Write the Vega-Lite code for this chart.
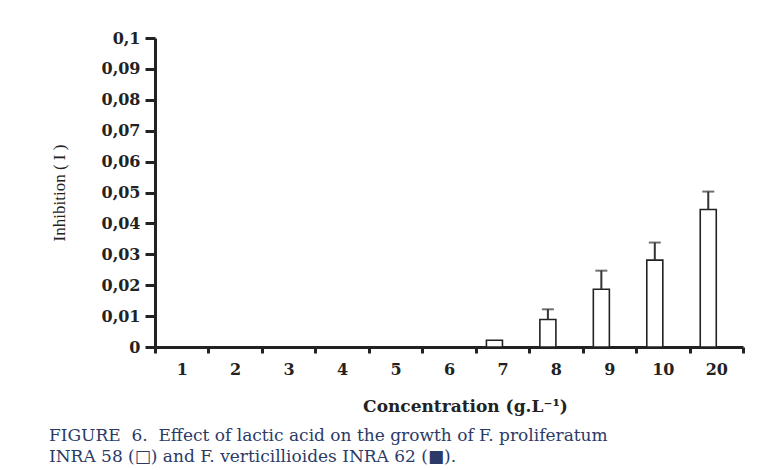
{
  "$schema": "https://vega.github.io/schema/vega-lite/v6.json",
  "width": 588,
  "height": 309,
  "autosize": {"type": "none"},
  "padding": {"left": 155, "top": 38, "right": 24, "bottom": 123},
  "background": "white",
  "config": {"view": {"stroke": null}, "font": "DejaVu Serif"},
  "title": {
    "text": ["FIGURE\u00a0\u00a06.\u00a0\u00a0Effect of lactic acid on the growth of F. proliferatum", "INRA 58 (□) and F. verticillioides INRA 62 (■)."],
    "orient": "bottom",
    "anchor": "start",
    "frame": "group",
    "dx": -106,
    "offset": 14,
    "font": "DejaVu Serif",
    "fontSize": 17,
    "fontWeight": "normal",
    "color": "#2b3a67",
    "lineHeight": 21,
    "baseline": "top"
  },
  "data": {
    "values": [
      {"conc": "1", "strain": "F. proliferatum INRA 58", "value": 0, "upper": null},
      {"conc": "2", "strain": "F. proliferatum INRA 58", "value": 0, "upper": null},
      {"conc": "3", "strain": "F. proliferatum INRA 58", "value": 0, "upper": null},
      {"conc": "4", "strain": "F. proliferatum INRA 58", "value": 0, "upper": null},
      {"conc": "5", "strain": "F. proliferatum INRA 58", "value": 0, "upper": null},
      {"conc": "6", "strain": "F. proliferatum INRA 58", "value": 0, "upper": null},
      {"conc": "7", "strain": "F. proliferatum INRA 58", "value": 0.0022, "upper": null},
      {"conc": "8", "strain": "F. proliferatum INRA 58", "value": 0.0089, "upper": 0.0122},
      {"conc": "9", "strain": "F. proliferatum INRA 58", "value": 0.0187, "upper": 0.0247},
      {"conc": "10", "strain": "F. proliferatum INRA 58", "value": 0.0281, "upper": 0.0338},
      {"conc": "20", "strain": "F. proliferatum INRA 58", "value": 0.0445, "upper": 0.0503},
      {"conc": "1", "strain": "F. verticillioides INRA 62", "value": 0, "upper": null},
      {"conc": "2", "strain": "F. verticillioides INRA 62", "value": 0, "upper": null},
      {"conc": "3", "strain": "F. verticillioides INRA 62", "value": 0, "upper": null},
      {"conc": "4", "strain": "F. verticillioides INRA 62", "value": 0, "upper": null},
      {"conc": "5", "strain": "F. verticillioides INRA 62", "value": 0, "upper": null},
      {"conc": "6", "strain": "F. verticillioides INRA 62", "value": 0, "upper": null},
      {"conc": "7", "strain": "F. verticillioides INRA 62", "value": 0, "upper": null},
      {"conc": "8", "strain": "F. verticillioides INRA 62", "value": 0, "upper": null},
      {"conc": "9", "strain": "F. verticillioides INRA 62", "value": 0, "upper": null},
      {"conc": "10", "strain": "F. verticillioides INRA 62", "value": 0, "upper": null},
      {"conc": "20", "strain": "F. verticillioides INRA 62", "value": 0, "upper": null}
    ]
  },
  "encoding": {
    "x": {
      "field": "conc",
      "type": "ordinal",
      "scale": {"domain": ["1", "2", "3", "4", "5", "6", "7", "8", "9", "10", "20"], "paddingInner": 0, "paddingOuter": 0},
      "axis": {
        "title": "Concentration (g.L⁻¹)",
        "titleFont": "DejaVu Serif",
        "titleFontSize": 17,
        "titleFontWeight": "bold",
        "titleColor": "#222",
        "titlePadding": 21,
        "titleX": 310,
        "labelAngle": 0,
        "labelFont": "DejaVu Serif",
        "labelFontSize": 16,
        "labelFontWeight": "bold",
        "labelColor": "#222",
        "labelPadding": 8,
        "tickBand": "extent",
        "tickSize": 6,
        "tickWidth": 3,
        "tickColor": "#222",
        "domainWidth": 3,
        "domainColor": "#222",
        "grid": false
      }
    },
    "xOffset": {
      "field": "strain",
      "type": "nominal",
      "scale": {"domain": ["F. proliferatum INRA 58", "F. verticillioides INRA 62"], "paddingInner": 0, "paddingOuter": 0.667}
    }
  },
  "layer": [
    {
      "mark": {"type": "bar", "stroke": "#222", "strokeWidth": 1.6},
      "encoding": {
        "y": {
          "field": "value",
          "type": "quantitative",
          "scale": {"domain": [0, 0.1], "nice": false},
          "axis": {
            "title": "Inhibition ( I )",
            "titleFont": "Liberation Serif",
            "titleFontSize": 17,
            "titleFontWeight": "normal",
            "titleColor": "#222",
            "titlePadding": 33,
            "values": [0, 0.01, 0.02, 0.03, 0.04, 0.05, 0.06, 0.07, 0.08, 0.09, 0.1],
            "labelOverlap": false,
            "labelExpr": "replace(format(datum.value, '.2~f'), '.', ',')",
            "labelFont": "DejaVu Serif",
            "labelFontSize": 16,
            "labelFontWeight": "bold",
            "labelColor": "#222",
            "labelPadding": 5,
            "tickSize": 10,
            "tickWidth": 3,
            "tickColor": "#222",
            "domainWidth": 3,
            "domainColor": "#222",
            "grid": false
          }
        },
        "fill": {
          "field": "strain",
          "type": "nominal",
          "scale": {"domain": ["F. proliferatum INRA 58", "F. verticillioides INRA 62"], "range": ["white", "black"]},
          "legend": null
        }
      }
    },
    {
      "transform": [{"filter": "datum.upper > 0"}],
      "mark": {"type": "rule", "color": "#333", "strokeWidth": 2},
      "encoding": {
        "y": {
          "field": "value",
          "type": "quantitative",
          "scale": {"domain": [0, 0.1], "nice": false},
          "axis": {
            "title": "Inhibition ( I )",
            "titleFont": "Liberation Serif",
            "titleFontSize": 17,
            "titleFontWeight": "normal",
            "titleColor": "#222",
            "titlePadding": 33,
            "values": [0, 0.01, 0.02, 0.03, 0.04, 0.05, 0.06, 0.07, 0.08, 0.09, 0.1],
            "labelOverlap": false,
            "labelExpr": "replace(format(datum.value, '.2~f'), '.', ',')",
            "labelFont": "DejaVu Serif",
            "labelFontSize": 16,
            "labelFontWeight": "bold",
            "labelColor": "#222",
            "labelPadding": 5,
            "tickSize": 10,
            "tickWidth": 3,
            "tickColor": "#222",
            "domainWidth": 3,
            "domainColor": "#222",
            "grid": false
          }
        },
        "y2": {"field": "upper"}
      }
    },
    {
      "transform": [{"filter": "datum.upper > 0"}],
      "mark": {"type": "tick", "color": "#333", "size": 12, "thickness": 2},
      "encoding": {
        "y": {
          "field": "upper",
          "type": "quantitative",
          "scale": {"domain": [0, 0.1], "nice": false},
          "axis": {
            "title": "Inhibition ( I )",
            "titleFont": "Liberation Serif",
            "titleFontSize": 17,
            "titleFontWeight": "normal",
            "titleColor": "#222",
            "titlePadding": 33,
            "values": [0, 0.01, 0.02, 0.03, 0.04, 0.05, 0.06, 0.07, 0.08, 0.09, 0.1],
            "labelOverlap": false,
            "labelExpr": "replace(format(datum.value, '.2~f'), '.', ',')",
            "labelFont": "DejaVu Serif",
            "labelFontSize": 16,
            "labelFontWeight": "bold",
            "labelColor": "#222",
            "labelPadding": 5,
            "tickSize": 10,
            "tickWidth": 3,
            "tickColor": "#222",
            "domainWidth": 3,
            "domainColor": "#222",
            "grid": false
          }
        }
      }
    }
  ]
}
